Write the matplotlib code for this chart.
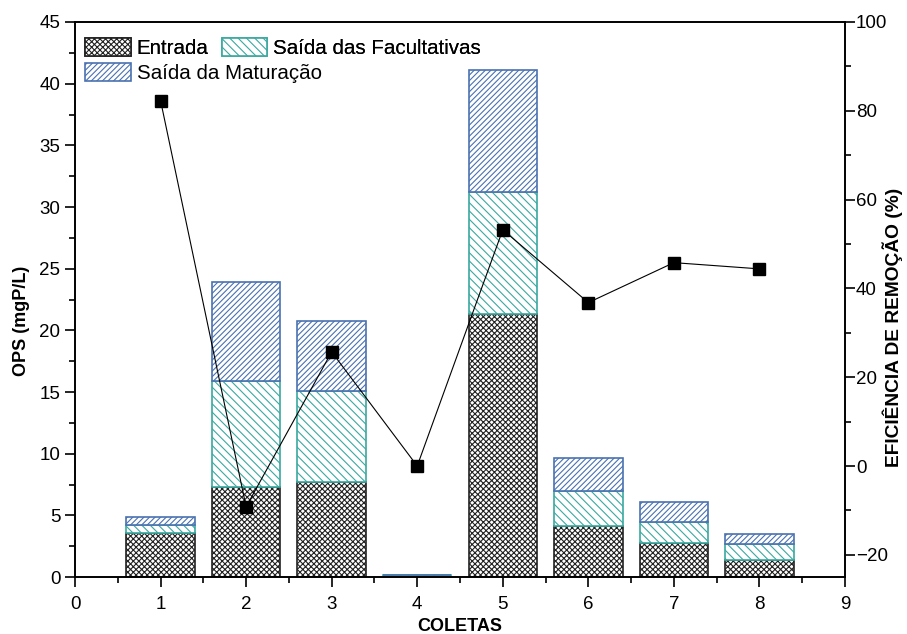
import numpy as np
import matplotlib.pyplot as plt
from matplotlib.ticker import MultipleLocator

plt.rcParams['font.family'] = ['Liberation Sans', 'DejaVu Sans']
plt.rcParams['hatch.linewidth'] = 0.8

# dados por coleta
coletas = [1, 2, 3, 4, 5, 6, 7, 8]
entrada = [3.57, 7.3, 7.68, 0.0, 21.3, 4.14, 2.75, 1.4]
facultativas = [4.2, 15.9, 15.1, 0.15, 31.2, 6.97, 4.5, 2.65]   # topo acumulado
maturacao = [4.9, 23.9, 20.75, 0.15, 41.1, 9.65, 6.08, 3.46]      # topo acumulado
eficiencia = [82.3, -9.2, 25.7, 0.0, 53.2, 36.8, 45.8, 44.4]

cor_fac = '#3aa9a0'
cor_mat = '#4a72b0'

fig = plt.figure(figsize=(9.07, 6.34), dpi=100)
ax = fig.add_axes([0.0827, 0.0899, 0.8489, 0.8754])

x = np.array(coletas)
ent = np.array(entrada)
fac = np.array(facultativas)
mat = np.array(maturacao)
w = 0.8

b1 = ax.bar(x, ent, w, fc='white', ec='#222222', hatch='xxxxxx', lw=1.2, label='Entrada')
b2 = ax.bar(x, fac - ent, w, bottom=ent, fc='white', ec=cor_fac, hatch='\\\\\\\\',
            lw=1.2, label='Saída das Facultativas')
b3 = ax.bar(x, mat - fac, w, bottom=fac, fc='white', ec=cor_mat, hatch='//////',
            lw=1.2, label='Saída da Maturação')

ax.set_xlim(0, 9)
ax.set_ylim(0, 45)
ax.xaxis.set_major_locator(MultipleLocator(1))
ax.xaxis.set_minor_locator(MultipleLocator(0.5))
ax.yaxis.set_major_locator(MultipleLocator(5))
ax.yaxis.set_minor_locator(MultipleLocator(2.5))
ax.tick_params(which='both', direction='out', labelsize=13.5, width=1.2)
ax.tick_params(which='major', length=7)
ax.tick_params(which='minor', length=4)
ax.tick_params(axis='x', which='both', pad=7)
ax.tick_params(axis='y', which='both', right=False)
ax.set_xlabel('COLETAS', fontsize=13, fontweight='bold', labelpad=3)
ax.set_ylabel('OPS (mgP/L)', fontsize=13, fontweight='bold')
ax.yaxis.set_label_coords(-0.059, 0.461)
for s in ax.spines.values():
    s.set_linewidth(1.2)

ax2 = ax.twinx()
ax2.plot(x, eficiencia, color='black', lw=0.8, marker='s', ms=8, mfc='black', mec='black')
ax2.set_ylim(-25, 100)
ax2.yaxis.set_major_locator(MultipleLocator(20))
ax2.yaxis.set_minor_locator(MultipleLocator(10))
ax2.tick_params(which='both', direction='out', labelsize=13.5, width=1.2, pad=1)
ax2.tick_params(which='major', length=7)
ax2.tick_params(which='minor', length=4)
ax2.set_ylabel('EFICIÊNCIA DE REMOÇÃO (%)', fontsize=13.8, fontweight='bold')
ax2.yaxis.set_label_coords(1.048, 0.45)
for s in ax2.spines.values():
    s.set_linewidth(1.2)

# legenda em duas linhas
leg_kw = dict(frameon=False, fontsize=14.8, handlelength=2.2, handleheight=0.98,
              handletextpad=0.3, columnspacing=0.63, borderpad=0, loc='upper left')
leg1 = ax.legend([b1, b2], ['Entrada', 'Saída das Facultativas'], ncol=2,
                 bbox_to_anchor=(0.0, 0.99), **leg_kw)
ax.add_artist(leg1)
ax2.legend([b3], ['Saída da Maturação'], bbox_to_anchor=(0.0, 0.945), **leg_kw)

fig.savefig('out.png', dpi=100)
